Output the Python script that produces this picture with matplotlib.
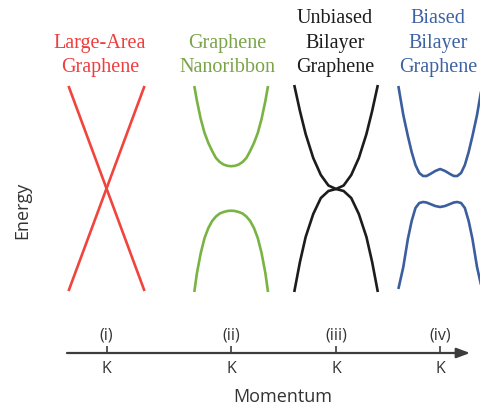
import numpy as np
import matplotlib
matplotlib.use("Agg")
import matplotlib.pyplot as plt

# --> Panel names, colours and the K point of each panel on the momentum axis.
titles = ["Large-Area\nGraphene", "Graphene\nNanoribbon",
          "Unbiased\nBilayer\nGraphene", "Biased\nBilayer\nGraphene"]
numerals = ["(i)", "(ii)", "(iii)", "(iv)"]
line_colors = ["#f0443c", "#79b443", "#1c1c1c", "#3a5e9e"]
title_colors = ["#ee3d3d", "#7aa448", "#1c1c1c", "#3d62a3"]
k_points = [1.04, 4.32, 7.08, 9.82]

# --> Bands: momentum relative to K, energy (arb. units).
# (i) Dirac cone
dirac_k = [-1.0, 1.0]
dirac_up = [-1.02, 1.03]
dirac_dn = [1.03, -1.02]

# (ii) nanoribbon
ribbon_k = [-0.97, -0.9, -0.8, -0.7, -0.6, -0.5, -0.4, -0.3, -0.2, -0.1, 0.0,
            0.1, 0.2, 0.3, 0.4, 0.5, 0.6, 0.7, 0.8, 0.9, 0.97]
ribbon_cb = [1.03, 0.88, 0.70, 0.56, 0.46, 0.38, 0.31, 0.27, 0.245, 0.232, 0.228,
             0.232, 0.245, 0.27, 0.31, 0.38, 0.46, 0.56, 0.70, 0.88, 1.03]
ribbon_vb = [-1.03, -0.84, -0.64, -0.49, -0.39, -0.32, -0.275, -0.245, -0.23, -0.22, -0.217,
             -0.22, -0.23, -0.245, -0.275, -0.32, -0.39, -0.49, -0.64, -0.84, -1.03]

# (iii) unbiased bilayer
bilayer_k = [-1.1, -0.95, -0.8, -0.6, -0.4, -0.2, 0.0, 0.2, 0.4, 0.6, 0.8, 0.95, 1.1]
bilayer_cb = [1.04, 0.78, 0.55, 0.31, 0.14, 0.035, 0.0, 0.035, 0.14, 0.31, 0.55, 0.78, 1.04]
bilayer_vb = [-1.03, -0.73, -0.48, -0.25, -0.09, -0.02, 0.0, -0.02, -0.09, -0.25, -0.48, -0.73, -1.03]

# (iv) biased bilayer (mexican hat)
biased_k = [-1.1, -0.97, -0.85, -0.75, -0.65, -0.55, -0.45, -0.36, -0.26, -0.13, 0.0,
            0.13, 0.26, 0.36, 0.45, 0.55, 0.65, 0.75, 0.85, 0.97, 1.1]
biased_cb = [1.03, 0.74, 0.53, 0.37, 0.24, 0.16, 0.13, 0.13, 0.15, 0.18, 0.20,
             0.18, 0.15, 0.13, 0.13, 0.16, 0.24, 0.37, 0.53, 0.74, 1.03]
biased_vb = [-1.0, -0.78, -0.50, -0.32, -0.19, -0.14, -0.13, -0.135, -0.15, -0.17, -0.18,
             -0.17, -0.15, -0.135, -0.13, -0.14, -0.19, -0.32, -0.50, -0.78, -1.0]

bands = [
    (dirac_k, [dirac_up, dirac_dn]),
    (ribbon_k, [ribbon_cb, ribbon_vb]),
    (bilayer_k, [bilayer_cb, bilayer_vb]),
    (biased_k, [biased_cb, biased_vb]),
]

# --> Figure and axes (axes spans the momentum arrow).
W, H = 480, 410
fig = plt.figure(figsize=(W / 100, H / 100), dpi=100)
ax = fig.add_axes([67 / W, 56 / H, 403 / W, 274 / H])
ax.set_xlim(0, 403 / 38)
ax.set_ylim(-1.64, 1.10)

for K, (k, Es), c in zip(k_points, bands, line_colors):
    for E in Es:
        ax.plot(K + np.asarray(k), E, color=c, lw=1.9, solid_capstyle="butt",
                clip_on=False)

# --> Momentum arrow with K ticks.
for s in ax.spines.values():
    s.set_visible(False)
axis_color = "#3c3c3c"
ax.annotate("", xy=(1, 0), xytext=(0, 0), xycoords="axes fraction",
            arrowprops=dict(arrowstyle="-|>,head_length=0.8,head_width=0.3",
                            color=axis_color, lw=1.6, shrinkA=0, shrinkB=0))
ax.set_yticks([])
ax.set_xticks(k_points)
ax.set_xticklabels(["K"] * 4, fontfamily="Open Sans", fontsize=11.5, color="#333333")
ax.tick_params(axis="x", direction="in", length=5, width=1.2, color=axis_color, pad=5)

for K, lab in zip(k_points, numerals):
    ax.annotate(lab, xy=(K, 0), xycoords=("data", "axes fraction"),
                xytext=(0, 10), textcoords="offset pixels", ha="center", va="bottom",
                fontfamily="Open Sans", fontsize=11.5, color="#333333")

# --> Titles above each panel.
title_x = [100, 227, 335, 438]
for x, t, c in zip(title_x, titles, title_colors):
    fig.text(x / W, (H - 77) / H, t, ha="center", va="bottom", color=c,
             fontfamily="Liberation Serif", fontsize=14.5, linespacing=1.38)

fig.text(283 / W, (H - 397) / H, "Momentum", ha="center", va="center",
         fontfamily="Open Sans", fontsize=13, color="#333333")
fig.text(22 / W, (H - 210) / H, "Energy", ha="center", va="center", rotation=90,
         fontfamily="Open Sans", fontsize=13, color="#333333")

fig.savefig("out.png", dpi=100)
